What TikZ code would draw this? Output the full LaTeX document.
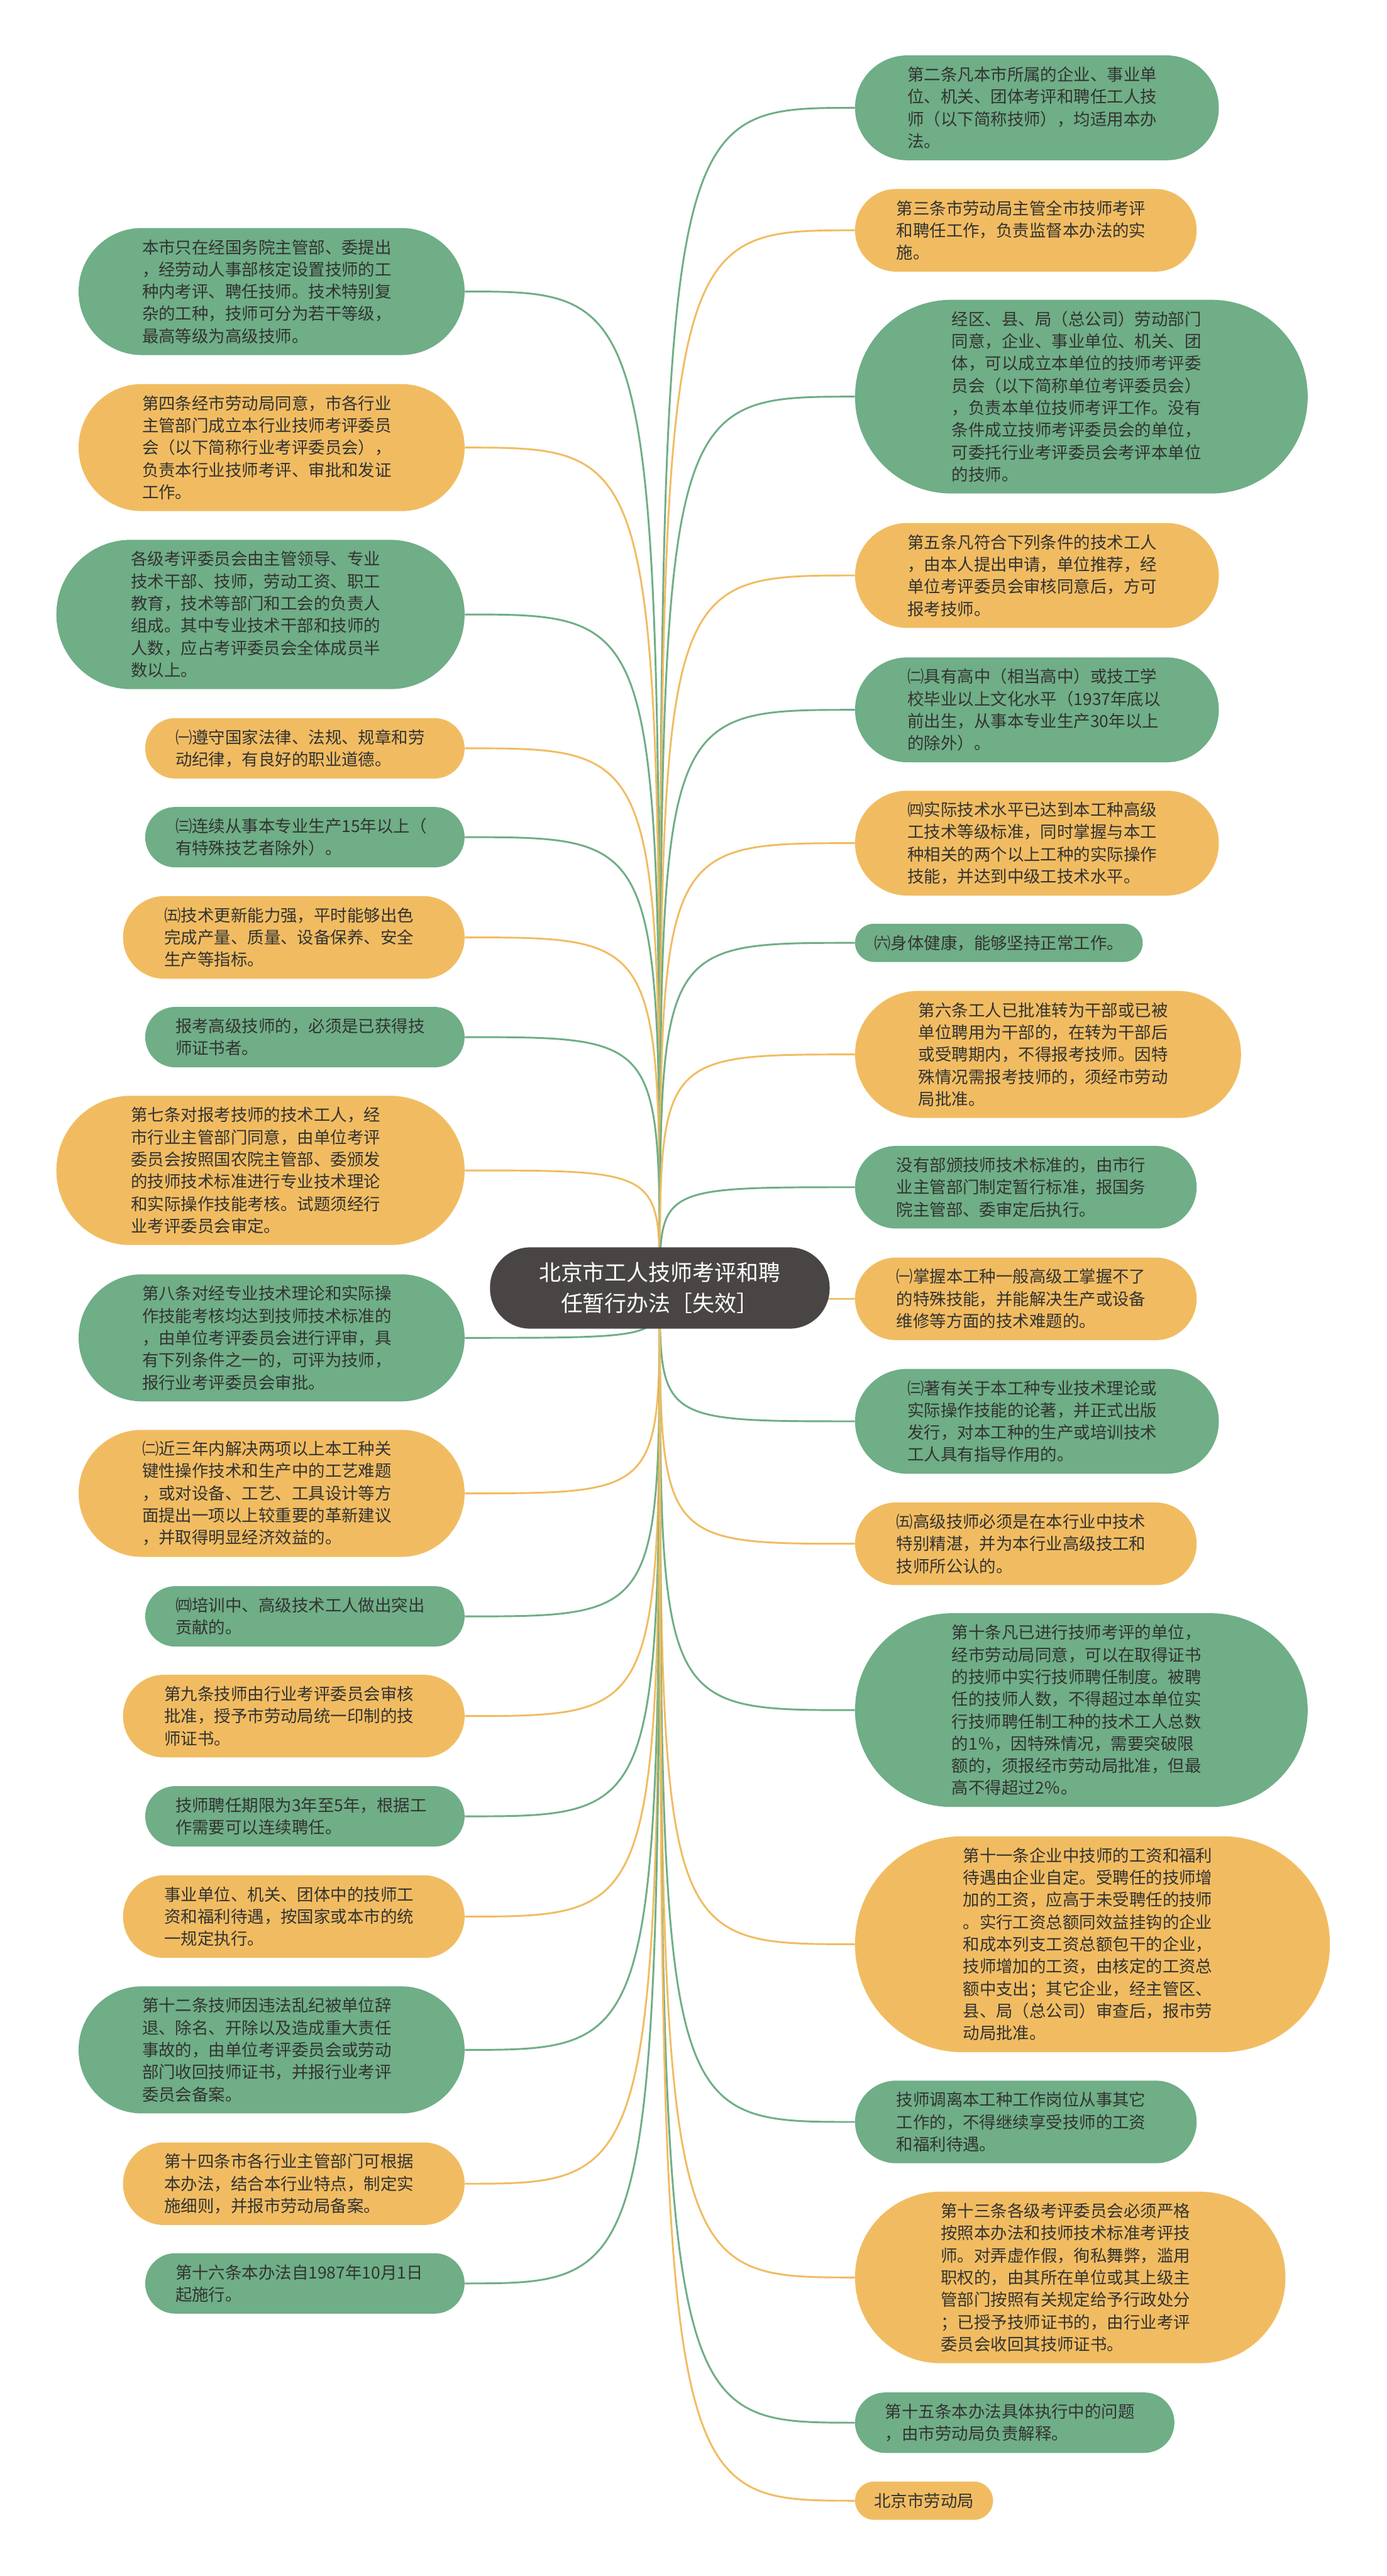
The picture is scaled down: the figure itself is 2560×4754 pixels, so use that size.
\documentclass[tikz,border=0pt]{standalone}
\usepackage{fontspec}
\setmainfont{Noto Sans CJK SC}
\usetikzlibrary{backgrounds}
\definecolor{gr}{HTML}{6FAE86}
\definecolor{og}{HTML}{F1BC61}
\definecolor{dk}{HTML}{4A4545}
\definecolor{tx}{HTML}{333333}
\tikzset{
  x=0.5pt, y=-0.5pt,
  pillbase/.style={rounded corners=#1*0.249pt, minimum height=#1*0.5pt,
    inner xsep=#1*0.25pt, inner ysep=0pt, align=left, text=tx,
    font=\fontsize{15.35pt}{20.5pt}\selectfont},
  gpill/.style={pillbase=#1, fill=gr, text width=239pt},
  opill/.style={pillbase=#1, fill=og, text width=239pt},
  gpillone/.style={pillbase=70.5, fill=gr},
  opillone/.style={pillbase=70.5, fill=og},
  lft/.style={anchor=east},
  rgt/.style={anchor=west},
  gline/.style={draw=gr, line width=1.7pt},
  oline/.style={draw=og, line width=1.7pt},
  cnode/.style={fill=dk, text=white, minimum width=313.5pt, minimum height=75pt,
    rounded corners=37pt, align=center, inner sep=0pt,
    font=\fontsize{20.3pt}{28.5pt}\selectfont}
}
\begin{document}
\begin{tikzpicture}
\useasboundingbox (0,0) rectangle (2560,4754);

% centre
\node[cnode] (c) at (1218,2377) {北京市工人技师考评和聘\\任暂行办法［失效］};

% left column
\node[gpill=234.5, lft] (l1) at (858,538) {本市只在经国务院主管部、委提出\\，经劳动人事部核定设置技师的工\\种内考评、聘任技师。技术特别复\\杂的工种，技师可分为若干等级，\\最高等级为高级技师。};
\node[opill=234.5, lft] (l2) at (858,826) {第四条经市劳动局同意，市各行业\\主管部门成立本行业技师考评委员\\会（以下简称行业考评委员会），\\负责本行业技师考评、审批和发证\\工作。};
\node[gpill=275.5, lft] (l3) at (858,1134) {各级考评委员会由主管领导、专业\\技术干部、技师，劳动工资、职工\\教育，技术等部门和工会的负责人\\组成。其中专业技术干部和技师的\\人数，应占考评委员会全体成员半\\数以上。};
\node[opill=111.5, lft] (l4) at (858,1381) {㈠遵守国家法律、法规、规章和劳\\动纪律，有良好的职业道德。};
\node[gpill=111.5, lft] (l5) at (858,1545) {㈢连续从事本专业生产15年以上（\\有特殊技艺者除外）。};
\node[opill=152.5, lft] (l6) at (858,1730) {㈤技术更新能力强，平时能够出色\\完成产量、质量、设备保养、安全\\生产等指标。};
\node[gpill=111.5, lft] (l7) at (858,1914) {报考高级技师的，必须是已获得技\\师证书者。};
\node[opill=275.5, lft] (l8) at (858,2160) {第七条对报考技师的技术工人，经\\市行业主管部门同意，由单位考评\\委员会按照国农院主管部、委颁发\\的技师技术标准进行专业技术理论\\和实际操作技能考核。试题须经行\\业考评委员会审定。};
\node[gpill=234.5, lft] (l9) at (858,2469) {第八条对经专业技术理论和实际操\\作技能考核均达到技师技术标准的\\，由单位考评委员会进行评审，具\\有下列条件之一的，可评为技师，\\报行业考评委员会审批。};
\node[opill=234.5, lft] (l10) at (858,2756) {㈡近三年内解决两项以上本工种关\\键性操作技术和生产中的工艺难题\\，或对设备、工艺、工具设计等方\\面提出一项以上较重要的革新建议\\，并取得明显经济效益的。};
\node[gpill=111.5, lft] (l11) at (858,2983) {㈣培训中、高级技术工人做出突出\\贡献的。};
\node[opill=152.5, lft] (l12) at (858,3167) {第九条技师由行业考评委员会审核\\批准，授予市劳动局统一印制的技\\师证书。};
\node[gpill=111.5, lft] (l13) at (858,3352) {技师聘任期限为3年至5年，根据工\\作需要可以连续聘任。};
\node[opill=152.5, lft] (l14) at (858,3537) {事业单位、机关、团体中的技师工\\资和福利待遇，按国家或本市的统\\一规定执行。};
\node[gpill=234.5, lft] (l15) at (858,3783) {第十二条技师因违法乱纪被单位辞\\退、除名、开除以及造成重大责任\\事故的，由单位考评委员会或劳动\\部门收回技师证书，并报行业考评\\委员会备案。};
\node[opill=152.5, lft] (l16) at (858,4030) {第十四条市各行业主管部门可根据\\本办法，结合本行业特点，制定实\\施细则，并报市劳动局备案。};
\node[gpill=111.5, lft] (l17) at (858,4214) {第十六条本办法自1987年10月1日\\起施行。};

% right column
\node[gpill=193.5, rgt] (r1) at (1578,199) {第二条凡本市所属的企业、事业单\\位、机关、团体考评和聘任工人技\\师（以下简称技师），均适用本办\\法。};
\node[opill=152.5, rgt] (r2) at (1578,425) {第三条市劳动局主管全市技师考评\\和聘任工作，负责监督本办法的实\\施。};
\node[gpill=357.5, rgt] (r3) at (1578,732) {经区、县、局（总公司）劳动部门\\同意，企业、事业单位、机关、团\\体，可以成立本单位的技师考评委\\员会（以下简称单位考评委员会）\\，负责本单位技师考评工作。没有\\条件成立技师考评委员会的单位，\\可委托行业考评委员会考评本单位\\的技师。};
\node[opill=193.5, rgt] (r4) at (1578,1062) {第五条凡符合下列条件的技术工人\\，由本人提出申请，单位推荐，经\\单位考评委员会审核同意后，方可\\报考技师。};
\node[gpill=193.5, rgt] (r5) at (1578,1310) {㈡具有高中（相当高中）或技工学\\校毕业以上文化水平（1937年底以\\前出生，从事本专业生产30年以上\\的除外）。};
\node[opill=193.5, rgt] (r6) at (1578,1556) {㈣实际技术水平已达到本工种高级\\工技术等级标准，同时掌握与本工\\种相关的两个以上工种的实际操作\\技能，并达到中级工技术水平。};
\node[gpillone, rgt] (r7) at (1578,1740) {㈥身体健康，能够坚持正常工作。};
\node[opill=234.5, rgt] (r8) at (1578,1946) {第六条工人已批准转为干部或已被\\单位聘用为干部的，在转为干部后\\或受聘期内，不得报考技师。因特\\殊情况需报考技师的，须经市劳动\\局批准。};
\node[gpill=152.5, rgt] (r9) at (1578,2191) {没有部颁技师技术标准的，由市行\\业主管部门制定暂行标准，报国务\\院主管部、委审定后执行。};
\node[opill=152.5, rgt] (r10) at (1578,2397) {㈠掌握本工种一般高级工掌握不了\\的特殊技能，并能解决生产或设备\\维修等方面的技术难题的。};
\node[gpill=193.5, rgt] (r11) at (1578,2623) {㈢著有关于本工种专业技术理论或\\实际操作技能的论著，并正式出版\\发行，对本工种的生产或培训技术\\工人具有指导作用的。};
\node[opill=152.5, rgt] (r12) at (1578,2849) {㈤高级技师必须是在本行业中技术\\特别精湛，并为本行业高级技工和\\技师所公认的。};
\node[gpill=357.5, rgt] (r13) at (1578,3156) {第十条凡已进行技师考评的单位，\\经市劳动局同意，可以在取得证书\\的技师中实行技师聘任制度。被聘\\任的技师人数，不得超过本单位实\\行技师聘任制工种的技术工人总数\\的1％，因特殊情况，需要突破限\\额的，须报经市劳动局批准，但最\\高不得超过2％。};
\node[opill=398.5, rgt] (r14) at (1578,3588) {第十一条企业中技师的工资和福利\\待遇由企业自定。受聘任的技师增\\加的工资，应高于未受聘任的技师\\。实行工资总额同效益挂钩的企业\\和成本列支工资总额包干的企业，\\技师增加的工资，由核定的工资总\\额中支出；其它企业，经主管区、\\县、局（总公司）审查后，报市劳\\动局批准。};
\node[gpill=152.5, rgt] (r15) at (1578,3916) {技师调离本工种工作岗位从事其它\\工作的，不得继续享受技师的工资\\和福利待遇。};
\node[opill=316.5, rgt] (r16) at (1578,4203) {第十三条各级考评委员会必须严格\\按照本办法和技师技术标准考评技\\师。对弄虚作假，徇私舞弊，滥用\\职权的，由其所在单位或其上级主\\管部门按照有关规定给予行政处分\\；已授予技师证书的，由行业考评\\委员会收回其技师证书。};
\node[gpill=111.5, rgt] (r17) at (1578,4471) {第十五条本办法具体执行中的问题\\，由市劳动局负责解释。};
\node[opillone, rgt] (r18) at (1578,4615) {北京市劳动局};

\begin{scope}[on background layer]
\fill[white] (0,0) rectangle (2560,4754);
\foreach \n/\s in {l1/gline,l2/oline,l3/gline,l4/oline,l5/gline,l6/oline,l7/gline,l8/oline,l9/gline,l10/oline,l11/gline,l12/oline,l13/gline,l14/oline,l15/gline,l16/oline,l17/gline}
  \draw[\s] (c.center) .. controls (c.center |- \n.east) .. (\n.east);
\foreach \n/\s in {r1/gline,r2/oline,r3/gline,r4/oline,r5/gline,r6/oline,r7/gline,r8/oline,r9/gline,r10/oline,r11/gline,r12/oline,r13/gline,r14/oline,r15/gline,r16/oline,r17/gline,r18/oline}
  \draw[\s] (c.center) .. controls (c.center |- \n.west) .. (\n.west);
\end{scope}
\end{tikzpicture}
\end{document}
